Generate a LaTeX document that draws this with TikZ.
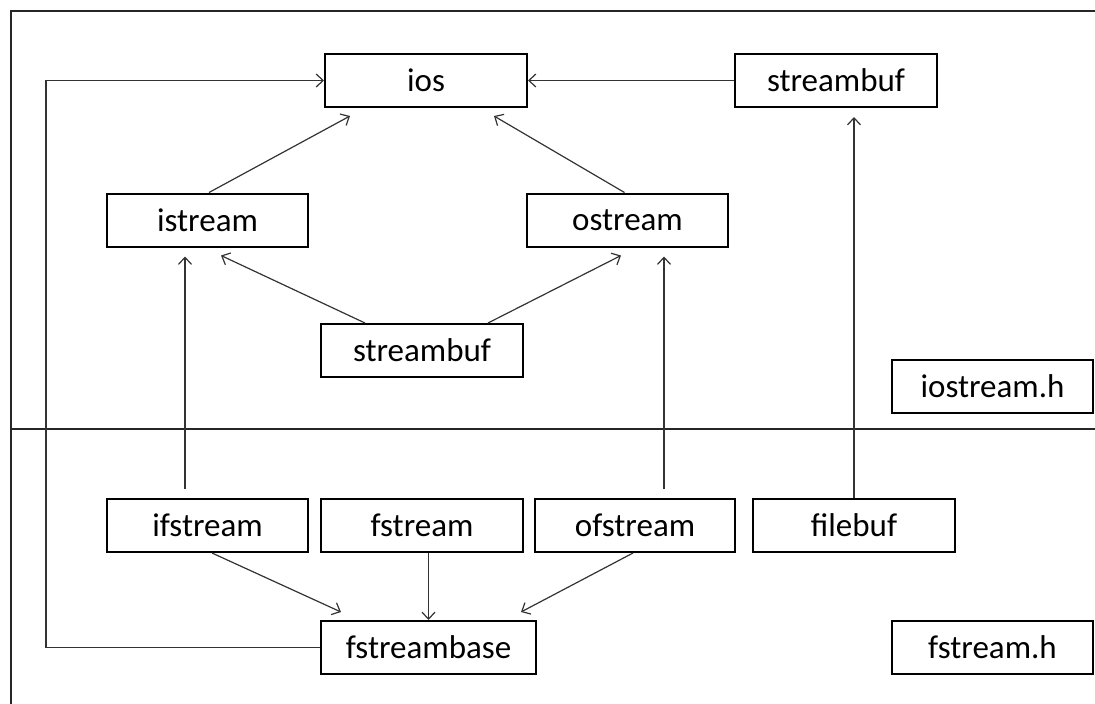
\documentclass[tikz,border=0pt]{standalone}
\usepackage{fontspec}
\setmainfont{Carlito}
\usetikzlibrary{calc,arrows.meta}
\begin{document}
\begin{tikzpicture}[x=1pt,y=-1pt,
  box/.style={draw=black,line width=2pt,minimum height=53pt,inner sep=0pt,
    font=\fontsize{33}{38}\selectfont,fill=white},
  conn/.style={draw=black!80,line width=1.2pt,
    -{Straight Barb[length=7pt,width=13pt,line width=1.2pt]}},
  plain/.style={draw=black!80,line width=1.2pt},
  frame/.style={draw=black!85,line width=2pt}]
\useasboundingbox (0,0) rectangle (1095,704);
% frame and separator
\coordinate (ftl) at (10.5,10.5);
\coordinate (fbl) at (10.5,704);
\coordinate (ftr) at (1095,10.5);
\coordinate (ml) at (10.5,428.5);
\coordinate (mr) at (1095,428.5);
\draw[frame] (fbl) -- (ftl) -- (ftr);
\draw[frame] (ml) -- (mr);
% nodes
\node[box,minimum width=202pt] (ios) at (426,80.5) {ios};
\node[box,minimum width=202pt] (sbtop) at (836,80.5) {streambuf};
\node[box,minimum width=201pt] (istream) at (207.5,220) {istream};
\node[box,minimum width=201pt] (ostream) at (627.5,220) {ostream};
\node[box,minimum width=202pt] (sbmid) at (422,350.5) {streambuf};
\node[box,minimum width=201pt] (iosh) at (992.5,386) {iostream.h};
\node[box,minimum width=201pt] (ifstream) at (207.5,525.5) {ifstream};
\node[box,minimum width=202pt] (fstream) at (422,525.5) {fstream};
\node[box,minimum width=200pt] (ofstream) at (635,525.5) {ofstream};
\node[box,minimum width=202pt] (filebuf) at (854,525.5) {filebuf};
\node[box,minimum width=215pt] (fsbase) at (428.5,647.5) {fstreambase};
\node[box,minimum width=201pt] (fsh) at (992.5,647.5) {fstream.h};
% connectors
\draw[conn] ($(istream.north)+(1.5,0)$) -- ($(ios.south west)+(26,8)$);
\draw[conn] ($(ostream.north)+(-3,0)$) -- ($(ios.south east)+(-34,8)$);
\draw[conn] (sbtop.west) -- (ios.east);
\draw[conn] (filebuf.north) -- ($(filebuf.north |- sbtop.south)+(0,9)$);
\draw[conn] ($(sbmid.north west)+(45,0)$) -- ($(istream.south west)+(115,8)$);
\draw[conn] ($(sbmid.north east)+(-36,0)$) -- ($(ostream.south west)+(95,8)$);
\draw[conn] ($(ifstream.north west)+(79,-9)$) -- ($(istream.south west)+(79,9)$);
\draw[conn] ($(ofstream.north west)+(130,-9)$) -- ($(ostream.south west)+(138,9)$);
\draw[conn] ($(ifstream.south)+(4.5,0)$) -- ($(fsbase.north west)+(21,-8)$);
\draw[conn] (fsbase.north |- fstream.south) -- (fsbase.north);
\draw[conn] ($(ofstream.south)+(-2,0)$) -- ($(fsbase.north east)+(-16,-8)$);
\coordinate (lc) at (46,0);
\draw[conn] (fsbase.west) -| (lc |- ios.west) -- (ios.west);
\end{tikzpicture}
\end{document}
